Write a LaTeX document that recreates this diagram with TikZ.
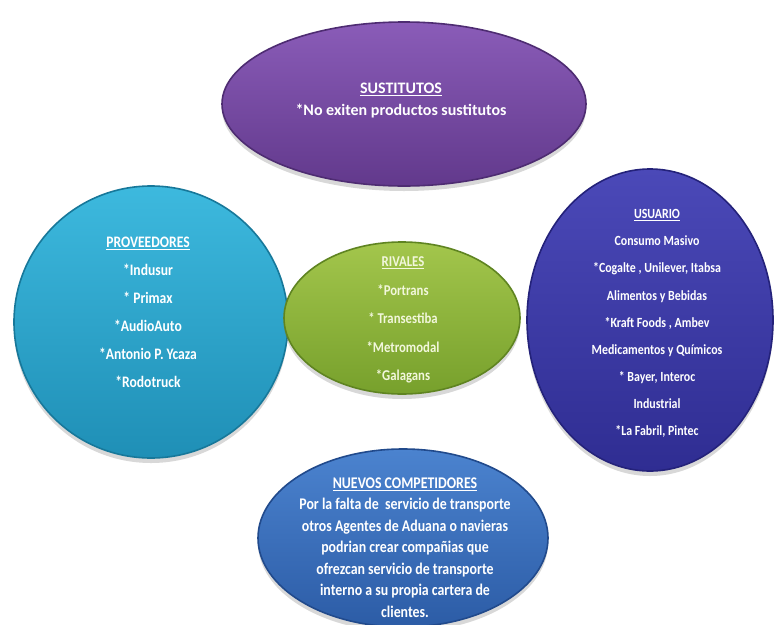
\documentclass[tikz,border=0pt]{standalone}
\usepackage{fontspec}
\setmainfont{Carlito}
\newfontfamily\narrowfont{Carlito}[FakeStretch=0.85]
\usetikzlibrary{shapes.geometric,shadows,backgrounds}

\definecolor{linkc}{HTML}{3EA8C8}
\definecolor{purpTop}{HTML}{8A5CB8}
\definecolor{purpBot}{HTML}{62398C}
\definecolor{purpRim}{HTML}{4E2C72}
\definecolor{cyanTop}{HTML}{3DB9DE}
\definecolor{cyanBot}{HTML}{1F8FB6}
\definecolor{cyanRim}{HTML}{17789A}
\definecolor{grnTop}{HTML}{A3C64C}
\definecolor{grnBot}{HTML}{77A02C}
\definecolor{grnRim}{HTML}{5F8421}
\definecolor{grnText}{HTML}{F2F7DC}
\definecolor{indTop}{HTML}{4B49B8}
\definecolor{indBot}{HTML}{2F2D92}
\definecolor{indRim}{HTML}{24227A}
\definecolor{bluTop}{HTML}{4B83CF}
\definecolor{bluBot}{HTML}{2C5CA6}
\definecolor{bluRim}{HTML}{214A8C}

\tikzset{
  x=1pt, y=-1pt,
  bubble/.style={ellipse, inner sep=0pt, line width=1.6pt,
    drop shadow={shadow xshift=0pt, shadow yshift=-5pt, opacity=0.25, fill=black!60}},
  purple bubble/.style={bubble, draw=purpRim, top color=purpTop, bottom color=purpBot},
  cyan bubble/.style={bubble, draw=cyanRim, top color=cyanTop, bottom color=cyanBot},
  green bubble/.style={bubble, draw=grnRim, top color=grnTop, bottom color=grnBot},
  indigo bubble/.style={bubble, draw=indRim, top color=indTop, bottom color=indBot},
  blue bubble/.style={bubble, draw=bluRim, top color=bluTop, bottom color=bluBot},
  bubbletext/.style={align=center, text=white, inner sep=0pt},
  link/.style={draw=linkc, line width=2.4pt}
}

\begin{document}
\begin{tikzpicture}
\useasboundingbox (0,0) rectangle (775,624);
\fill[white] (0,0) rectangle (775,624);

% the five forces as bubbles
\node[purple bubble, minimum width=364pt, minimum height=164pt] (sust) at (404,104) {};
\node[cyan bubble, minimum width=274pt, minimum height=272pt] (prov) at (151,322) {};
\node[indigo bubble, minimum width=246pt, minimum height=302pt] (usu) at (650,320) {};
\node[blue bubble, minimum width=290pt, minimum height=178pt] (nuevo) at (403,538) {};
\node[green bubble, minimum width=236pt, minimum height=152pt] (riv) at (402,318) {};

% connectors behind the bubbles
\begin{scope}[on background layer]
  \draw[link] (riv.center) -- (riv.center |- sust.center);
  \draw[link] (riv.center) -- (riv.center |- nuevo.center);
  \draw[link] (riv.center) -- (prov.center |- riv.center);
  \draw[link] (riv.center) -- (usu.center |- riv.center);
\end{scope}

% labels
\node[bubbletext, font=\bfseries\fontsize{16}{22}\selectfont] (sustT) at (401,101)
  {\underline{SUSTITUTOS}\\ *No exiten productos sustitutos};
\node[bubbletext, font=\narrowfont\bfseries\fontsize{16}{28}\selectfont] (provT) at (148,312)
  {\underline{PROVEEDORES}\\ *Indusur\\ * Primax\\ *AudioAuto\\ *Antonio P. Ycaza\\ *Rodotruck};
\node[bubbletext, text=grnText, font=\narrowfont\bfseries\fontsize{15}{28.5}\selectfont] (rivT) at (403,320)
  {\underline{RIVALES}\\ *Portrans\\ * Transestiba\\ *Metromodal\\ *Galagans};
\node[bubbletext, font=\narrowfont\bfseries\fontsize{14}{27.1}\selectfont] (usuT) at (657,323.5)
  {\underline{USUARIO}\\ Consumo Masivo\\ *Cogalte , Unilever, Itabsa\\
   Alimentos y Bebidas\\ *Kraft Foods , Ambev\\ Medicamentos y Químicos\\
   * Bayer, Interoc\\ Industrial\\ *La Fabril, Pintec};
\node[bubbletext, font=\narrowfont\bfseries\fontsize{16.3}{21.5}\selectfont] (nuevoT) at (405,547.5)
  {\underline{NUEVOS COMPETIDORES}\\ Por la falta de\ \ servicio de transporte\\
   otros Agentes de Aduana o navieras\\ podrian crear compañias que\\
   ofrezcan servicio de transporte\\ interno a su propia cartera de\\ clientes.};
\end{tikzpicture}
\end{document}
